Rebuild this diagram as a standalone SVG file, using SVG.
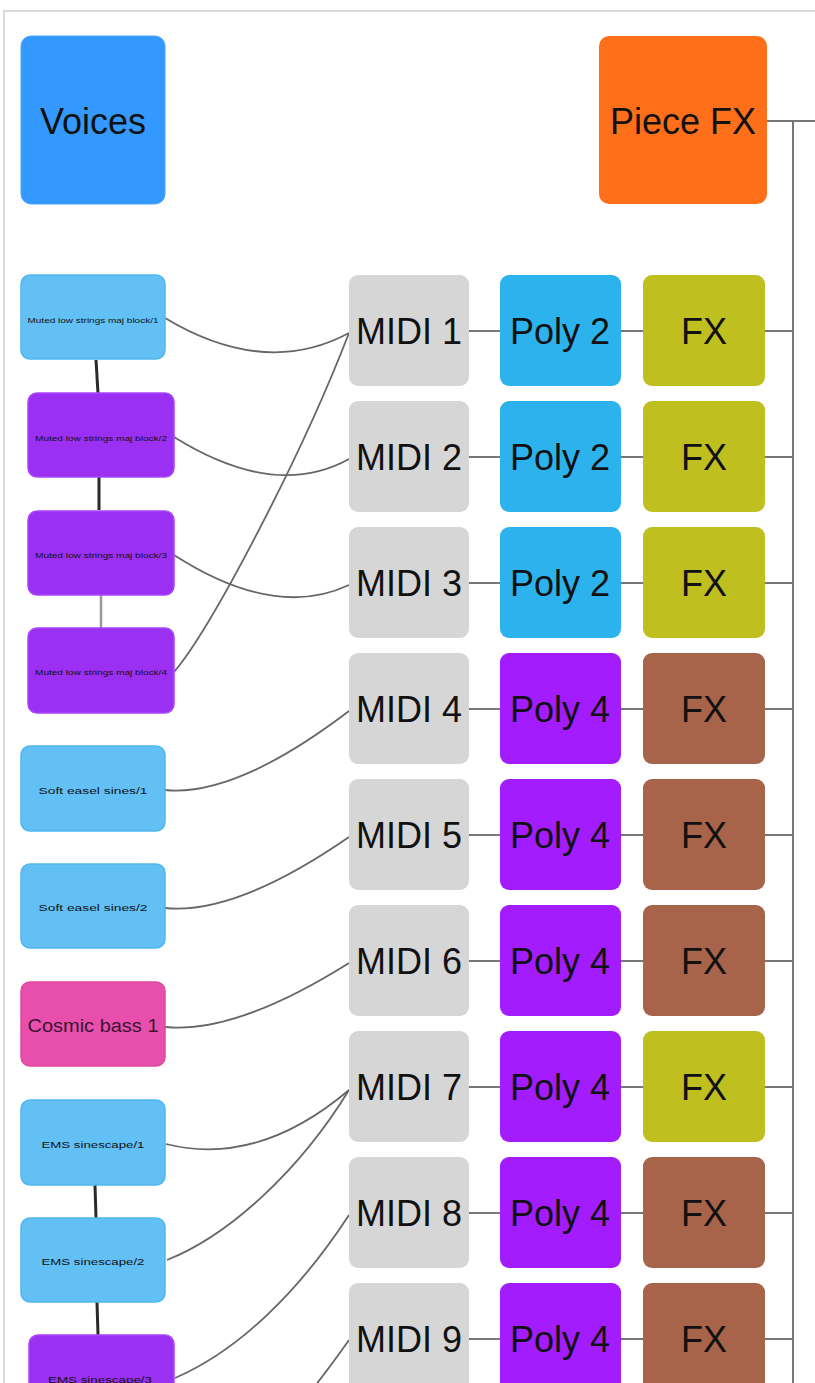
<svg xmlns="http://www.w3.org/2000/svg" width="815" height="1383" viewBox="0 0 815 1383">
<style>
text{font-family:"Liberation Sans",Arial,sans-serif;fill:#111;text-anchor:middle;dominant-baseline:central}
.big{font-size:36px}
.tiny{font-size:7px}
.sm{font-size:8.5px}
.lb{fill:#63c0f5;stroke:#4fb6f0;stroke-width:1.5}
.pv{fill:#9b30f2;stroke:#a845ff;stroke-width:1.5}
.midi{fill:#d6d6d6}
.p2{fill:#2cb3ee}
.p4{fill:#a21cfe}
.fxo{fill:#bfbf1f}
.fxb{fill:#a8644a}
.c{fill:none;stroke:#666;stroke-width:1.8}
.h{fill:none;stroke:#777;stroke-width:2}
.stack{fill:none;stroke:#2a2a2a;stroke-width:3}
</style>
<rect x="4" y="11" width="840" height="1420" fill="#fff" stroke="#dadada" stroke-width="2"/>
<g id="connectors">
<path class="h" d="M767,121H815M793,121V1383"/>
<path class="h" d="M468,331H500M621,331H643M765,331H793"/>
<path class="h" d="M468,457H500M621,457H643M765,457H793"/>
<path class="h" d="M468,583H500M621,583H643M765,583H793"/>
<path class="h" d="M468,709H500M621,709H643M765,709H793"/>
<path class="h" d="M468,835H500M621,835H643M765,835H793"/>
<path class="h" d="M468,961H500M621,961H643M765,961H793"/>
<path class="h" d="M468,1087H500M621,1087H643M765,1087H793"/>
<path class="h" d="M468,1213H500M621,1213H643M765,1213H793"/>
<path class="h" d="M468,1339H500M621,1339H643M765,1339H793"/>
<path class="stack" d="M96,360L98,393"/>
<path class="stack" d="M99,477L99,510"/>
<path d="M101,595L101,628" fill="none" stroke="#999" stroke-width="2.5"/>
<path class="stack" d="M95,1185L96,1218"/>
<path class="stack" d="M97,1302L98,1335"/>
<path class="c" d="M165,318Q265,378 349,333"/>
<path class="c" d="M174,437Q275,500 349,459"/>
<path class="c" d="M174,555Q275,620 349,585"/>
<path class="c" d="M174,672C210,630 300,460 349,333"/>
<path class="c" d="M165,790Q236,797 349,711"/>
<path class="c" d="M165,908Q236,915 349,837"/>
<path class="c" d="M165,1027Q236,1034 349,963"/>
<path class="c" d="M166,1144C230,1160 290,1140 349,1090"/>
<path class="c" d="M167,1260C230,1235 300,1170 349,1090"/>
<path class="c" d="M175,1378C240,1350 300,1290 349,1215"/>
<path class="c" d="M300,1405C320,1380 335,1360 349,1340"/>
</g>
<g id="voices"><rect x="21" y="36" width="144" height="168" rx="10" fill="#3399fe" stroke="#4aa5ff" stroke-width="1"/><text class="big" x="93" y="121">Voices</text></g>
<g id="piecefx"><rect x="599" y="36" width="168" height="168" rx="10" fill="#ff6f1a"/><text class="big" x="683" y="121">Piece FX</text></g>
<g id="v1"><rect class="lb" x="21" y="275" width="144" height="84" rx="9"/><text class="tiny" x="93" y="320" textLength="131" lengthAdjust="spacingAndGlyphs">Muted low strings maj block/1</text></g>
<g id="v2"><rect class="pv" x="28" y="393" width="146" height="84" rx="9"/><text class="tiny" x="101" y="438" textLength="132" lengthAdjust="spacingAndGlyphs">Muted low strings maj block/2</text></g>
<g id="v3"><rect class="pv" x="28" y="511" width="146" height="84" rx="9"/><text class="tiny" x="101" y="555" textLength="132" lengthAdjust="spacingAndGlyphs">Muted low strings maj block/3</text></g>
<g id="v4"><rect class="pv" x="28" y="628" width="146" height="85" rx="9"/><text class="tiny" x="101" y="672" textLength="132" lengthAdjust="spacingAndGlyphs">Muted low strings maj block/4</text></g>
<g id="v5"><rect class="lb" x="21" y="746" width="144" height="85" rx="9"/><text class="sm" x="93" y="791" textLength="109" lengthAdjust="spacingAndGlyphs">Soft easel sines/1</text></g>
<g id="v6"><rect class="lb" x="21" y="864" width="144" height="84" rx="9"/><text class="sm" x="93" y="908" textLength="109" lengthAdjust="spacingAndGlyphs">Soft easel sines/2</text></g>
<g id="v7"><rect x="21" y="982" width="144" height="84" rx="9" fill="#e84fad" stroke="#e0489f" stroke-width="1.5"/><text x="93" y="1026" font-size="18" textLength="131" lengthAdjust="spacingAndGlyphs" style="fill:#3a1430">Cosmic bass 1</text></g>
<g id="v8"><rect class="lb" x="21" y="1100" width="144" height="85" rx="9"/><text class="sm" x="93" y="1145" textLength="103" lengthAdjust="spacingAndGlyphs">EMS sinescape/1</text></g>
<g id="v9"><rect class="lb" x="21" y="1218" width="144" height="84" rx="9"/><text class="sm" x="93" y="1262" textLength="103" lengthAdjust="spacingAndGlyphs">EMS sinescape/2</text></g>
<g id="v10"><rect class="pv" x="29" y="1335" width="145" height="85" rx="9"/><text class="sm" x="100" y="1380" textLength="104" lengthAdjust="spacingAndGlyphs">EMS sinescape/3</text></g>
<g id="midi1"><rect class="midi" x="349" y="275" width="120" height="111" rx="9"/><text class="big" x="409" y="331">MIDI 1</text></g>
<g id="poly1"><rect class="p2" x="500" y="275" width="121" height="111" rx="9"/><text class="big" x="560" y="331">Poly 2</text></g>
<g id="fx1"><rect class="fxo" x="643" y="275" width="122" height="111" rx="9"/><text class="big" x="704" y="331">FX</text></g>
<g id="midi2"><rect class="midi" x="349" y="401" width="120" height="111" rx="9"/><text class="big" x="409" y="457">MIDI 2</text></g>
<g id="poly2"><rect class="p2" x="500" y="401" width="121" height="111" rx="9"/><text class="big" x="560" y="457">Poly 2</text></g>
<g id="fx2"><rect class="fxo" x="643" y="401" width="122" height="111" rx="9"/><text class="big" x="704" y="457">FX</text></g>
<g id="midi3"><rect class="midi" x="349" y="527" width="120" height="111" rx="9"/><text class="big" x="409" y="583">MIDI 3</text></g>
<g id="poly3"><rect class="p2" x="500" y="527" width="121" height="111" rx="9"/><text class="big" x="560" y="583">Poly 2</text></g>
<g id="fx3"><rect class="fxo" x="643" y="527" width="122" height="111" rx="9"/><text class="big" x="704" y="583">FX</text></g>
<g id="midi4"><rect class="midi" x="349" y="653" width="120" height="111" rx="9"/><text class="big" x="409" y="709">MIDI 4</text></g>
<g id="poly4"><rect class="p4" x="500" y="653" width="121" height="111" rx="9"/><text class="big" x="560" y="709">Poly 4</text></g>
<g id="fx4"><rect class="fxb" x="643" y="653" width="122" height="111" rx="9"/><text class="big" x="704" y="709">FX</text></g>
<g id="midi5"><rect class="midi" x="349" y="779" width="120" height="111" rx="9"/><text class="big" x="409" y="835">MIDI 5</text></g>
<g id="poly5"><rect class="p4" x="500" y="779" width="121" height="111" rx="9"/><text class="big" x="560" y="835">Poly 4</text></g>
<g id="fx5"><rect class="fxb" x="643" y="779" width="122" height="111" rx="9"/><text class="big" x="704" y="835">FX</text></g>
<g id="midi6"><rect class="midi" x="349" y="905" width="120" height="111" rx="9"/><text class="big" x="409" y="961">MIDI 6</text></g>
<g id="poly6"><rect class="p4" x="500" y="905" width="121" height="111" rx="9"/><text class="big" x="560" y="961">Poly 4</text></g>
<g id="fx6"><rect class="fxb" x="643" y="905" width="122" height="111" rx="9"/><text class="big" x="704" y="961">FX</text></g>
<g id="midi7"><rect class="midi" x="349" y="1031" width="120" height="111" rx="9"/><text class="big" x="409" y="1087">MIDI 7</text></g>
<g id="poly7"><rect class="p4" x="500" y="1031" width="121" height="111" rx="9"/><text class="big" x="560" y="1087">Poly 4</text></g>
<g id="fx7"><rect class="fxo" x="643" y="1031" width="122" height="111" rx="9"/><text class="big" x="704" y="1087">FX</text></g>
<g id="midi8"><rect class="midi" x="349" y="1157" width="120" height="111" rx="9"/><text class="big" x="409" y="1213">MIDI 8</text></g>
<g id="poly8"><rect class="p4" x="500" y="1157" width="121" height="111" rx="9"/><text class="big" x="560" y="1213">Poly 4</text></g>
<g id="fx8"><rect class="fxb" x="643" y="1157" width="122" height="111" rx="9"/><text class="big" x="704" y="1213">FX</text></g>
<g id="midi9"><rect class="midi" x="349" y="1283" width="120" height="111" rx="9"/><text class="big" x="409" y="1339">MIDI 9</text></g>
<g id="poly9"><rect class="p4" x="500" y="1283" width="121" height="111" rx="9"/><text class="big" x="560" y="1339">Poly 4</text></g>
<g id="fx9"><rect class="fxb" x="643" y="1283" width="122" height="111" rx="9"/><text class="big" x="704" y="1339">FX</text></g>
</svg>
